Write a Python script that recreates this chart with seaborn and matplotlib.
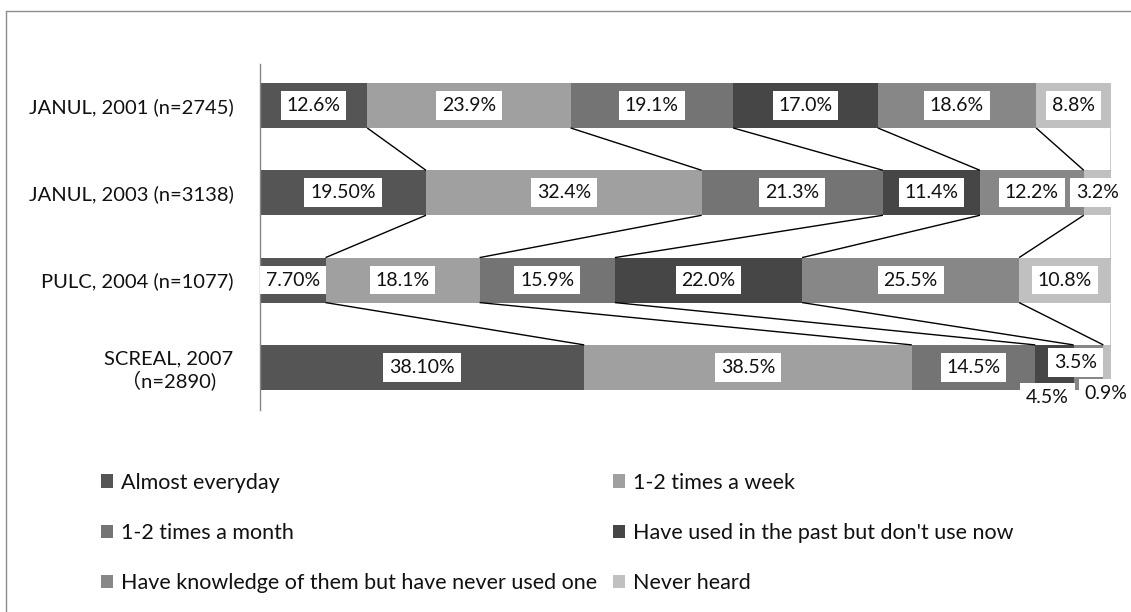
import numpy as np
import pandas as pd
import matplotlib
matplotlib.use("Agg")
import matplotlib.pyplot as plt
from matplotlib.lines import Line2D
from matplotlib.patches import Patch
import seaborn as sns

# ---- data -------------------------------------------------------------
surveys = [
    "JANUL, 2001 (n=2745)",
    "JANUL, 2003 (n=3138)",
    "PULC, 2004 (n=1077)",
    "SCREAL, 2007\n\uff08n=2890)",
]
series = [
    "Almost everyday",
    "1-2 times a week",
    "1-2 times a month",
    "Have used in the past but don't use now",
    "Have knowledge of them but have never used one",
    "Never heard",
]
almost_everyday = [12.6, 19.5, 7.7, 38.1]
weekly = [23.9, 32.4, 18.1, 38.5]
monthly = [19.1, 21.3, 15.9, 14.5]
used_past = [17.0, 11.4, 22.0, 4.5]
knowledge = [18.6, 12.2, 25.5, 3.5]
never_heard = [8.8, 3.2, 10.8, 0.9]
# decimals shown on each data label (survey x series)
label_decimals = [
    [1, 1, 1, 1, 1, 1],
    [2, 1, 1, 1, 1, 1],
    [2, 1, 1, 1, 1, 1],
    [2, 1, 1, 1, 1, 1],
]

colors = ["#555555", "#a0a0a0", "#747474", "#464646", "#878787", "#c0c0c0"]

# ---- long table with cumulative shares ---------------------------------
values = [almost_everyday, weekly, monthly, used_past, knowledge, never_heard]
rows = []
for k, name in enumerate(series):
    for i, s in enumerate(surveys):
        rows.append({"survey": s, "series": name, "k": k, "i": i, "value": values[k][i]})
df = pd.DataFrame(rows).sort_values(["i", "k"])
df["cum"] = df.groupby("i")["value"].cumsum()
df["mid"] = df["cum"] - df["value"] / 2

# ---- styling -------------------------------------------------------------
sns.set_style("white")
plt.rcParams["font.family"] = ["Lato", "Noto Sans CJK JP", "DejaVu Sans"]

W, H = 1131, 612
fig = plt.figure(figsize=(W / 100, H / 100), dpi=100)
ax = fig.add_axes([260 / W, 1 - 410 / H, 851 / W, 346 / H])

BAR_W = 0.515

# stacked bars: draw cumulative totals from the outermost series inwards
for k in reversed(range(len(series))):
    sub = df[df["k"] == k]
    sns.barplot(data=sub, x="cum", y="survey", order=surveys, orient="h",
                color=colors[k], saturation=1, width=BAR_W, errorbar=None,
                linewidth=0, ax=ax)

# series lines joining segment ends of neighbouring bars
for i in range(len(surveys) - 1):
    a = df[df["i"] == i].sort_values("k")["cum"].to_numpy()
    b = df[df["i"] == i + 1].sort_values("k")["cum"].to_numpy()
    for xa, xb in zip(a, b):
        ax.plot([xa, xb], [i + BAR_W / 2, i + 1 - BAR_W / 2],
                color="black", lw=1.0, zorder=1, solid_capstyle="butt")

# data labels (small trailing segments of the last bar are nudged aside)
nudges = {(3, 3): (-7, -30), (3, 4): (-13, 5), (3, 5): (-1, -26)}
for _, r in df.iterrows():
    i, k = int(r["i"]), int(r["k"])
    txt = f"{r['value']:.{label_decimals[i][k]}f}%"
    dx, dy = nudges.get((i, k), (0, 0))
    ax.annotate(txt, (r["mid"], i), xytext=(dx, dy), textcoords="offset pixels",
                ha="center", va="center", fontsize=14, color="#111111",
                bbox=dict(boxstyle="square,pad=0.3", fc="white", ec="none"),
                zorder=5, annotation_clip=False)

ax.set_xlim(0, 100)
ax.set_ylim(3.488, -0.475)
ax.set_xlabel("")
ax.set_ylabel("")
ax.set_xticks([])
ax.tick_params(axis="y", length=0, pad=19, labelsize=14.5, labelcolor="#111111")
for lbl in ax.get_yticklabels():
    lbl.set_multialignment("center")
for side in ("top", "right", "bottom"):
    ax.spines[side].set_visible(False)
ax.spines["left"].set_color("#868686")
ax.spines["left"].set_linewidth(1.0)

# legend: two columns, filled row by row
order = [0, 2, 4, 1, 3, 5]
handles = [Patch(facecolor=colors[k], edgecolor="none") for k in order]
labels = [series[k] for k in order]
fig.legend(handles, labels, ncol=2, loc="upper left",
           bbox_to_anchor=(90 / W, 1 - 462 / H), frameon=False,
           fontsize=15.5, borderpad=0, handlelength=0.58, handleheight=0.58,
           handletextpad=0.38, labelspacing=1.4, columnspacing=0.7,
           labelcolor="#111111")

# chart area frame (top and left edges)
fig.add_artist(Line2D([6 / W, 6 / W], [0, 1 - 11 / H], transform=fig.transFigure,
                      color="#8c8c8c", lw=1.0))
fig.add_artist(Line2D([6 / W, 1], [1 - 11 / H, 1 - 11 / H], transform=fig.transFigure,
                      color="#8c8c8c", lw=1.0))

fig.savefig("out.png", dpi=100)
